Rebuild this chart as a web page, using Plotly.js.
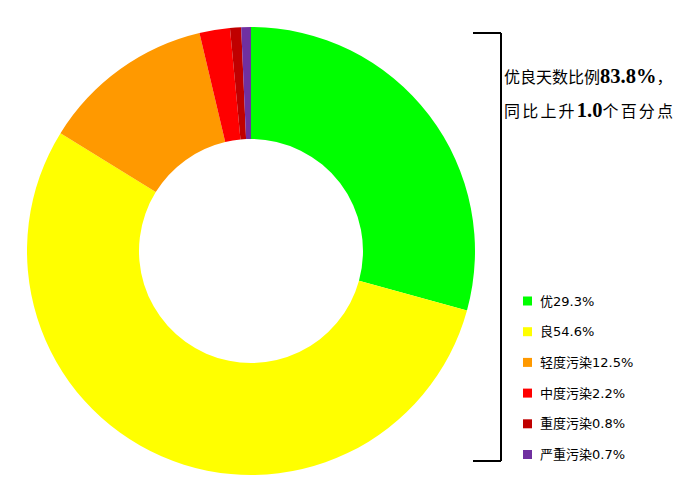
<!DOCTYPE html>
<html>
<head>
<meta charset="utf-8">
<script src="https://cdn.plot.ly/plotly-3.0.1.min.js"></script>
<style>
  html, body { margin: 0; padding: 0; background: #fff; }
  #chart { width: 700px; height: 504px; }
</style>
</head>
<body>
<div id="chart"></div>
<script>
// air quality levels, share of days (%)
const categories = ['优', '良', '轻度污染', '中度污染', '重度污染', '严重污染'];
const shares = [29.3, 54.6, 12.5, 2.2, 0.8, 0.7];
const colors = ['#00FF00', '#FFFF00', '#FF9900', '#FF0000', '#C00000', '#7030A0'];
const goodRatio = '83.8%';
const yoyChange = '1.0';

const W = 700, H = 504;
const px = x => x / W;
const py = y => 1 - y / H;

const trace = {
    type: 'pie',
    labels: categories,
    values: shares,
    sort: false,
    direction: 'clockwise',
    rotation: 0,
    hole: 0.5,
    marker: { colors: colors, line: { width: 0 } },
    textinfo: 'none',
    hoverinfo: 'label+percent',
    domain: { x: [px(27), px(475)], y: [py(475), py(27)] },
    showlegend: false
};

const shapes = [];
const annotations = [];

// bracket on the right
const bracket = { type: 'line', xref: 'paper', yref: 'paper', line: { color: '#000', width: 2 } };
shapes.push(Object.assign({}, bracket, { x0: px(473), x1: px(501), y0: py(33), y1: py(33) }));
shapes.push(Object.assign({}, bracket, { x0: px(501), x1: px(501), y0: py(33), y1: py(461) }));
shapes.push(Object.assign({}, bracket, { x0: px(473), x1: px(501), y0: py(461), y1: py(461) }));

// note text (second line is spread to the same width as the first)
const big = s => '<span style="font-size:20.5px"><b>' + s + '</b></span>';
const spread = s => '<span style="letter-spacing:2.2px">' + s + '</span>';
const noteLines = [
    '优良天数比例' + big(goodRatio) + '，',
    spread('同比上升') + big(yoyChange) + spread('个百分点')
];
const noteY = [76, 110];
noteLines.forEach((t, i) => {
    annotations.push({
        text: t, xref: 'paper', yref: 'paper',
        x: px(502), y: py(noteY[i]), xanchor: 'left', yanchor: 'middle',
        showarrow: false,
        font: { family: 'Liberation Serif, Noto Sans CJK SC', size: 16, color: '#000' }
    });
});

// legend
const legendY0 = 301, legendStep = 30.7;
categories.forEach((c, i) => {
    const y = legendY0 + i * legendStep;
    shapes.push({
        type: 'rect', xref: 'paper', yref: 'paper',
        x0: px(523), x1: px(532), y0: py(y - 4.5), y1: py(y + 4.5),
        fillcolor: colors[i], line: { width: 0 }
    });
    annotations.push({
        text: c + shares[i].toFixed(1) + '%', xref: 'paper', yref: 'paper',
        x: px(538), y: py(y), xanchor: 'left', yanchor: 'middle',
        showarrow: false,
        font: { family: 'DejaVu Sans, Noto Sans CJK SC', size: 13, color: '#000' }
    });
});

const layout = {
    width: W,
    height: H,
    margin: { l: 0, r: 0, t: 0, b: 0 },
    paper_bgcolor: '#fff',
    plot_bgcolor: '#fff',
    showlegend: false,
    shapes: shapes,
    annotations: annotations
};

Plotly.newPlot('chart', [trace], layout, { displayModeBar: false, staticPlot: true });
</script>
</body>
</html>
